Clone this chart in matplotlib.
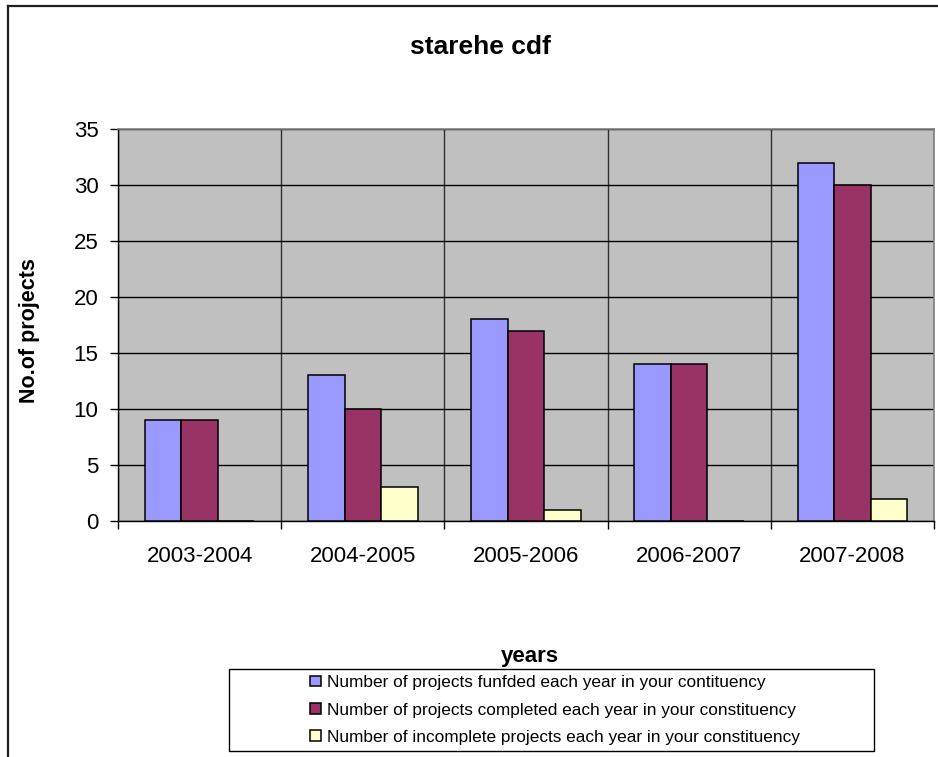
import numpy as np
import matplotlib
matplotlib.use("Agg")
from matplotlib import pyplot as plt
from matplotlib.lines import Line2D
from matplotlib.patches import Rectangle

years = ["2003-2004", "2004-2005", "2005-2006", "2006-2007", "2007-2008"]
funded = [9, 13, 18, 14, 32]
completed = [9, 10, 17, 14, 30]
incomplete = [0, 3, 1, 0, 2]

series_names = [
    "Number of projects funfded each year in your contituency",
    "Number of projects completed each year in your constituency",
    "Number of incomplete projects each year in your constituency",
]
colors = ["#9999FF", "#993366", "#FFFFCC"]

plt.rcParams["font.family"] = ["Liberation Sans", "DejaVu Sans"]

fig = plt.figure(figsize=(9.38, 7.57), dpi=100)
W, H = 938, 757

# plot area in pixel terms -> figure fractions
left, right, top, bottom = 118, 934, 129, 521
ax = fig.add_axes([left / W, 1 - bottom / H, (right - left) / W, (bottom - top) / H])
ax.set_facecolor("#C0C0C0")

x = np.arange(len(years)) + 0.5
bw = 0.224
for i, (vals, c, name) in enumerate(zip([funded, completed, incomplete], colors, series_names)):
    ax.bar(x + (i - 1) * bw, vals, width=bw, color=c, edgecolor="black",
           linewidth=1.1, label=name, zorder=3)

ax.set_xlim(0, len(years))
ax.set_ylim(0, 35)
ax.set_yticks(range(0, 36, 5))
ax.set_xticks(range(0, len(years) + 1))
ax.set_xticklabels([])
ax.set_xticks(x, minor=True)
ax.set_xticklabels(years, minor=True)
ax.tick_params(axis="x", which="minor", length=0, pad=18, labelsize=16)
ax.tick_params(axis="x", which="major", length=6, width=1, direction="out")
ax.tick_params(axis="y", length=6, width=1, pad=8, labelsize=16, direction="out")

ax.grid(True, axis="y", color="black", linewidth=1, zorder=1)
ax.grid(True, axis="x", which="major", color="#303030", linewidth=1, zorder=1)
ax.set_axisbelow(True)

for side in ["left", "bottom"]:
    ax.spines[side].set_color("black")
    ax.spines[side].set_linewidth(1)
for side in ["top", "right"]:
    ax.spines[side].set_color("#808080")
    ax.spines[side].set_linewidth(1.2)

ax.set_ylabel("No.of projects", fontsize=15.5, fontweight="bold")
ax.yaxis.set_label_coords(-0.095, 0.485)
ax.set_xlabel("years", fontsize=16, fontweight="bold")
ax.xaxis.set_label_coords(0.505, -0.318)

fig.text(480 / W, 1 - 47 / H, "starehe cdf", fontsize=19, fontweight="bold",
         ha="center", va="center")

# legend with a plain rectangular frame
lx0, lx1, ly0, ly1 = 229, 874, 669, 751
fig.patches.append(Rectangle((lx0 / W, 1 - ly1 / H), (lx1 - lx0) / W, (ly1 - ly0) / H,
                             transform=fig.transFigure, facecolor="white",
                             edgecolor="black", linewidth=1, zorder=0))
handles, labels = ax.get_legend_handles_labels()
fig.legend(handles, labels, loc="center", bbox_to_anchor=(555 / W, 1 - 710 / H),
           frameon=False, fontsize=12.4, handlelength=0.6, handleheight=0.6,
           handletextpad=0.35, labelspacing=0.72, borderpad=0)

# outer chart border (only top and left edges fall inside the image)
fig.add_artist(Line2D([8 / W, 1], [1 - 5.5 / H, 1 - 5.5 / H], transform=fig.transFigure,
                      color="#202020", linewidth=1.6))
fig.add_artist(Line2D([8 / W, 8 / W], [1 - 5.5 / H, 0], transform=fig.transFigure,
                      color="#202020", linewidth=1.6))

fig.savefig("out.png", dpi=100)
